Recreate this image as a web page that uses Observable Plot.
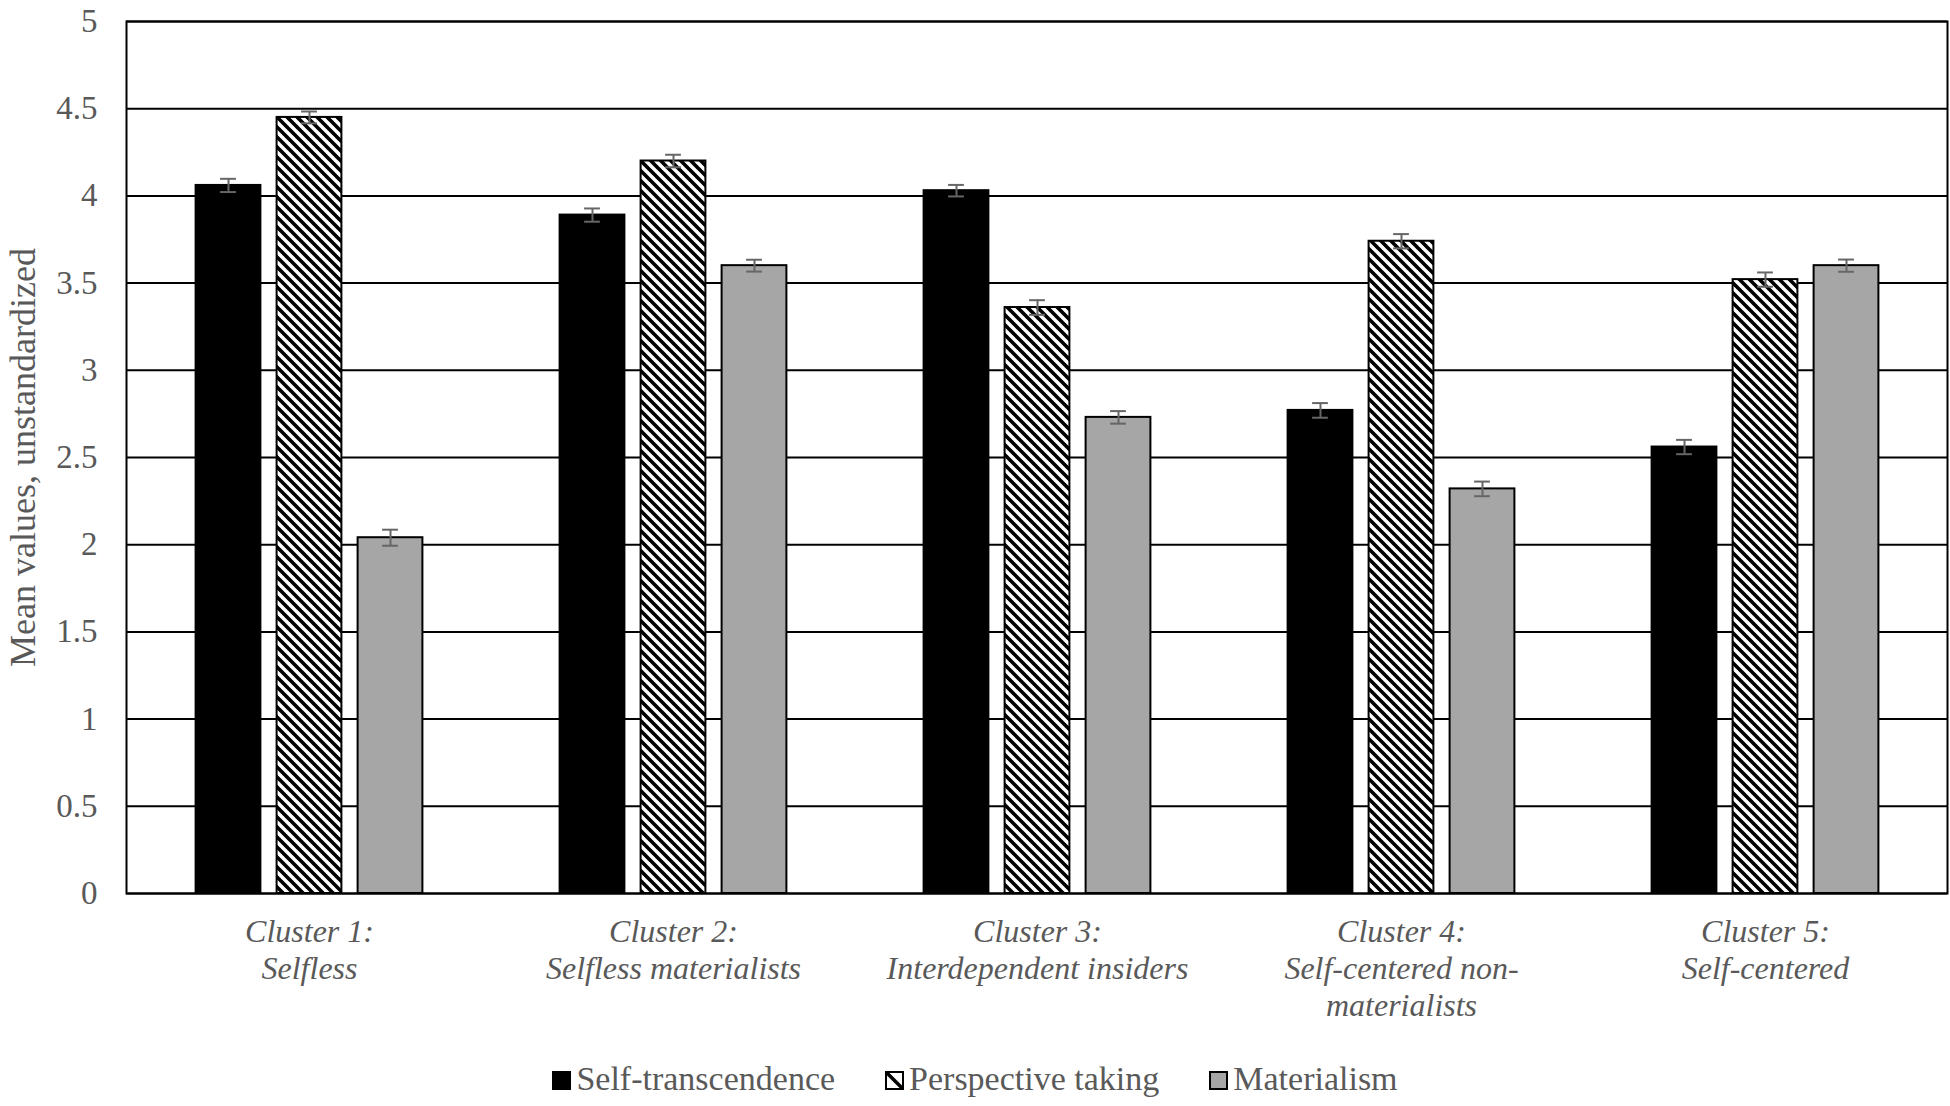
<!DOCTYPE html>
<html>
<head>
<meta charset="utf-8">
<script src="https://cdn.jsdelivr.net/npm/d3@7"></script>
<script src="https://cdn.jsdelivr.net/npm/@observablehq/plot@0.6"></script>
<style>
  html, body { margin: 0; padding: 0; background: #fff; }
  #wrap { position: relative; width: 1950px; height: 1106px; background: #fff; }
  #legend {
    position: absolute; top: 1060px; left: 0; width: 1950px;
    display: flex; justify-content: center; align-items: baseline; gap: 50px;
    font-family: "Liberation Serif", "Times New Roman", serif; font-size: 34px; color: #595959; line-height: 1.1;
  }
  #legend .item { display: flex; align-items: baseline; }
  #legend svg { margin-right: 5px; }
</style>
</head>
<body>
<svg width="0" height="0" style="position:absolute">
  <defs>
    <pattern id="hatch" patternUnits="userSpaceOnUse" width="10" height="10">
      <rect width="10" height="10" fill="#fff"></rect>
      <path d="M-1,-1 L11,11 M-6,4 L6,16 M4,-6 L16,6" stroke="#000" stroke-width="3.6"></path>
    </pattern>
  </defs>
</svg>
<div id="wrap">
  <div id="chart"></div>
  <div id="legend"></div>
</div>
<script>
// ---- data ----
const clusters = [
  "Cluster 1:\nSelfless",
  "Cluster 2:\nSelfless materialists",
  "Cluster 3:\nInterdependent insiders",
  "Cluster 4:\nSelf-centered non-\nmaterialists",
  "Cluster 5:\nSelf-centered"
];
const series = ["Self-transcendence", "Perspective taking", "Materialism"];
const selfTranscendence = [4.06, 3.89, 4.03, 2.77, 2.56];
const perspectiveTaking = [4.45, 4.20, 3.36, 3.74, 3.52];
const materialism       = [2.04, 3.60, 2.73, 2.32, 3.60];
const errSelfTranscendence = [0.038, 0.038, 0.033, 0.042, 0.041];
const errPerspectiveTaking = [0.034, 0.036, 0.042, 0.041, 0.041];
const errMaterialism       = [0.046, 0.034, 0.036, 0.042, 0.035];
const yTicks = [0, 0.5, 1, 1.5, 2, 2.5, 3, 3.5, 4, 4.5, 5];
const yLabel = "Mean values, unstandardized";

// ---- layout / style ----
const W = 1950, H = 1040, mL = 126, mR = 3, mT = 21, mB = H - 893;
const B = (W - mL - mR) / clusters.length;
const barW = 65, step = 81, capW = 16;
const fills = ["#000000", "url(#hatch)", "#a6a6a6"];
const values = [selfTranscendence, perspectiveTaking, materialism];
const errors = [errSelfTranscendence, errPerspectiveTaking, errMaterialism];
const font = "'Liberation Serif', 'Times New Roman', serif";
const textColor = "#595959";

const rows = series.flatMap((s, j) => clusters.map((c, i) => ({
  cluster: c, series: s, j, value: values[j][i], err: errors[j][i]
})));

const marks = [Plot.ruleY(yTicks, {stroke: "#000", strokeWidth: 2})];
series.forEach((s, j) => {
  const off = (j - 1) * step;
  const side = (B - barW) / 2;
  const cs = (B - capW) / 2;
  const data = rows.filter(d => d.j === j);
  marks.push(Plot.barY(data, {
    x: "cluster", y: "value", fill: fills[j], stroke: "#000", strokeWidth: 2,
    insetLeft: side + off, insetRight: side - off
  }));
  marks.push(Plot.ruleX(data, {
    x: "cluster", y1: d => d.value - d.err, y2: d => d.value + d.err,
    dx: off, stroke: "#666", strokeWidth: 2
  }));
  marks.push(Plot.tickY(data, {
    x: "cluster", y: d => d.value + d.err, insetLeft: cs + off, insetRight: cs - off,
    stroke: "#666", strokeWidth: 2
  }));
  marks.push(Plot.tickY(data, {
    x: "cluster", y: d => d.value - d.err, insetLeft: cs + off, insetRight: cs - off,
    stroke: "#666", strokeWidth: 2
  }));
});
marks.push(Plot.frame({stroke: "#000", strokeWidth: 2}));
marks.push(Plot.axisY({
  ticks: yTicks, tickSize: 0, tickPadding: 29, tickFormat: d => String(d),
  fontSize: 33, fill: textColor, label: null
}));
marks.push(Plot.axisX({
  tickSize: 0, tickPadding: 22, fontSize: 32, fontStyle: "italic", fill: textColor,
  lineHeight: 1.16, lineAnchor: "top", label: null
}));
marks.push(Plot.text([yLabel], {
  text: d => d, frameAnchor: "left", rotate: -90, dx: -103,
  fontSize: 36, fill: textColor, textAnchor: "middle", lineAnchor: "middle"
}));

const chart = Plot.plot({
  width: W, height: H,
  marginLeft: mL, marginRight: mR, marginTop: mT, marginBottom: mB,
  style: {fontFamily: font, background: "#fff", color: textColor},
  x: {domain: clusters, padding: 0, label: null},
  y: {domain: [0, 5], label: null},
  marks
});
document.getElementById("chart").appendChild(chart);

// ---- legend ----
const swatchSvg = [
  `<svg width="19" height="19"><rect x="1" y="1" width="17" height="17" fill="#000" stroke="#000" stroke-width="2"/></svg>`,
  `<svg width="19" height="19"><rect x="1" y="1" width="17" height="17" fill="#fff" stroke="#000" stroke-width="2"/><path d="M2,2 L17,17" stroke="#000" stroke-width="3.5"/></svg>`,
  `<svg width="19" height="19"><rect x="1" y="1" width="17" height="17" fill="#a6a6a6" stroke="#000" stroke-width="2"/></svg>`
];
const legend = d3.select("#legend");
series.forEach((s, j) => {
  const item = legend.append("div").attr("class", "item");
  item.append("span").html(swatchSvg[j]).style("display", "inline-flex").style("align-self", "baseline");
  item.append("span").text(s);
});
</script>
</body>
</html>
